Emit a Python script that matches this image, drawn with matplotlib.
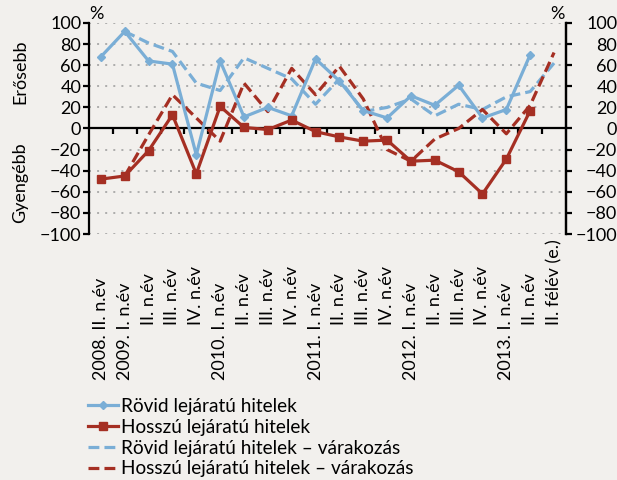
import numpy as np
import matplotlib
matplotlib.use("Agg")
import matplotlib.pyplot as plt
from matplotlib.lines import Line2D

plt.rcParams['font.family'] = ['Lato', 'DejaVu Sans']

# Category labels (year part and quarter part)
years = ["2008.", "2009.", "", "", "", "2010.", "", "", "", "2011.", "", "", "",
         "2012.", "", "", "", "2013.", "", ""]
quarters = ["II. n.év", "I. n.év", "II. n.év", "III. n.év", "IV. n.év",
            "I. n.év", "II. n.év", "III. n.év", "IV. n.év",
            "I. n.év", "II. n.év", "III. n.év", "IV. n.év",
            "I. n.év", "II. n.év", "III. n.év", "IV. n.év",
            "I. n.év", "II. n.év", "II. félév (e.)"]

nan = np.nan
short_actual = [68, 92, 64, 61, -25, 64, 11, 20, 12, 66, 45, 17, 10, 31, 22, 41, 10, 18, 70, nan]
long_actual = [-48, -45, -21, 13, -43, 21, 1, -1, 8, -3, -8, -12, -11, -31, -30, -41, -62, -29, 17, nan]
short_expected = [nan, 92, 81, 73, 43, 36, 67, 57, 47, 23, 47, 16, 20, 28, 12, 23, 18, 30, 35, 62]
long_expected = [nan, -45, -6, 32, 10, -12, 43, 16, 57, 32, 59, 28, -20, -31, -10, 0, 18, -5, 22, 72]

series_names = ["Rövid lejáratú hitelek", "Hosszú lejáratú hitelek",
                "Rövid lejáratú hitelek – várakozás", "Hosszú lejáratú hitelek – várakozás"]

yticks = [100, 80, 60, 40, 20, 0, -20, -40, -60, -80, -100]
ytick_labels = ["100", "80", "60", "40", "20", "0", "−20", "−40", "−60", "−80", "−100"]

BG = "#f2f0ed"
BLUE = "#7aaed6"
RED = "#a52f23"
FS = 13

fig = plt.figure(figsize=(6.17, 4.80), dpi=100, facecolor=BG)
ax = fig.add_axes([0.1442, 0.5125, 0.7731, 0.4396], facecolor=BG)

n = len(quarters)
x = np.arange(n) + 0.5

# dotted horizontal grid
for v in yticks:
    if v != 0:
        ax.axhline(v, color="#9a9a9a", lw=1.1, ls=(0, (1.3, 4)), zorder=1)

lw = 2.3
dash = (3.4, 1.6)
ax.plot(x, short_expected, color=BLUE, lw=lw, dashes=dash, zorder=3)
ax.plot(x, long_expected, color=RED, lw=lw, dashes=dash, zorder=3)
ax.plot(x, short_actual, color=BLUE, lw=lw, marker="D", ms=4.5, zorder=4)
ax.plot(x, long_actual, color=RED, lw=lw, marker="s", ms=5.5, zorder=4)

ax.set_xlim(0, n)
ax.set_ylim(-100, 100)

ax.spines["top"].set_visible(False)
ax.spines["bottom"].set_position(("data", 0))
for s in ["left", "right", "bottom"]:
    ax.spines[s].set_linewidth(1.6)
    ax.spines[s].set_color("black")

ax.set_xticks(np.arange(1, n))
ax.set_xticklabels([])
ax.tick_params(axis="x", direction="out", length=4, width=1.6, color="black")

ax.set_yticks(yticks)
ax.set_yticklabels(ytick_labels, fontsize=FS)
ax.tick_params(axis="y", direction="out", length=4, width=1.6, pad=1.5, left=True, right=False)

ax2 = ax.twinx()
ax2.set_ylim(-100, 100)
ax2.set_yticks(yticks)
ax2.set_yticklabels(ytick_labels, fontsize=FS)
for lab in ax2.get_yticklabels():
    lab.set_ha("right")
ax2.tick_params(axis="y", direction="out", length=4, width=1.6, pad=33)
for s in ["top", "bottom", "left"]:
    ax2.spines[s].set_visible(False)
ax2.spines["right"].set_linewidth(1.6)

# category labels below the axes
tr = ax.get_xaxis_transform()
for xi, yr, q in zip(x, years, quarters):
    if yr:
        ax.text(xi, -0.692, yr + " " + q, rotation=90, ha="center", va="bottom",
                fontsize=FS, transform=tr)
    else:
        ax.text(xi, -0.431, q, rotation=90, ha="center", va="bottom",
                fontsize=FS, transform=tr)

fig.text(96 / 617, 1 - 14 / 480, "%", fontsize=FS, ha="center", va="center")
fig.text(557 / 617, 1 - 14 / 480, "%", fontsize=FS, ha="center", va="center")
fig.text(20 / 617, 1 - 72 / 480, "Erősebb", rotation=90, fontsize=FS, ha="center", va="center")
fig.text(20 / 617, 1 - 183 / 480, "Gyengébb", rotation=90, fontsize=FS, ha="center", va="center")

handles = [
    Line2D([], [], color=BLUE, lw=lw, marker="D", ms=4),
    Line2D([], [], color=RED, lw=lw, marker="s", ms=5.5),
    Line2D([], [], color=BLUE, lw=lw, dashes=dash),
    Line2D([], [], color=RED, lw=lw, dashes=dash),
]
fig.legend(handles, series_names, loc="upper left", bbox_to_anchor=(88 / 617, 1 - 398 / 480),
           frameon=False, fontsize=13.7, handlelength=1.6, handletextpad=0.15,
           labelspacing=0.2, borderpad=0, borderaxespad=0)

fig.savefig("out.png", dpi=100, facecolor=BG)
